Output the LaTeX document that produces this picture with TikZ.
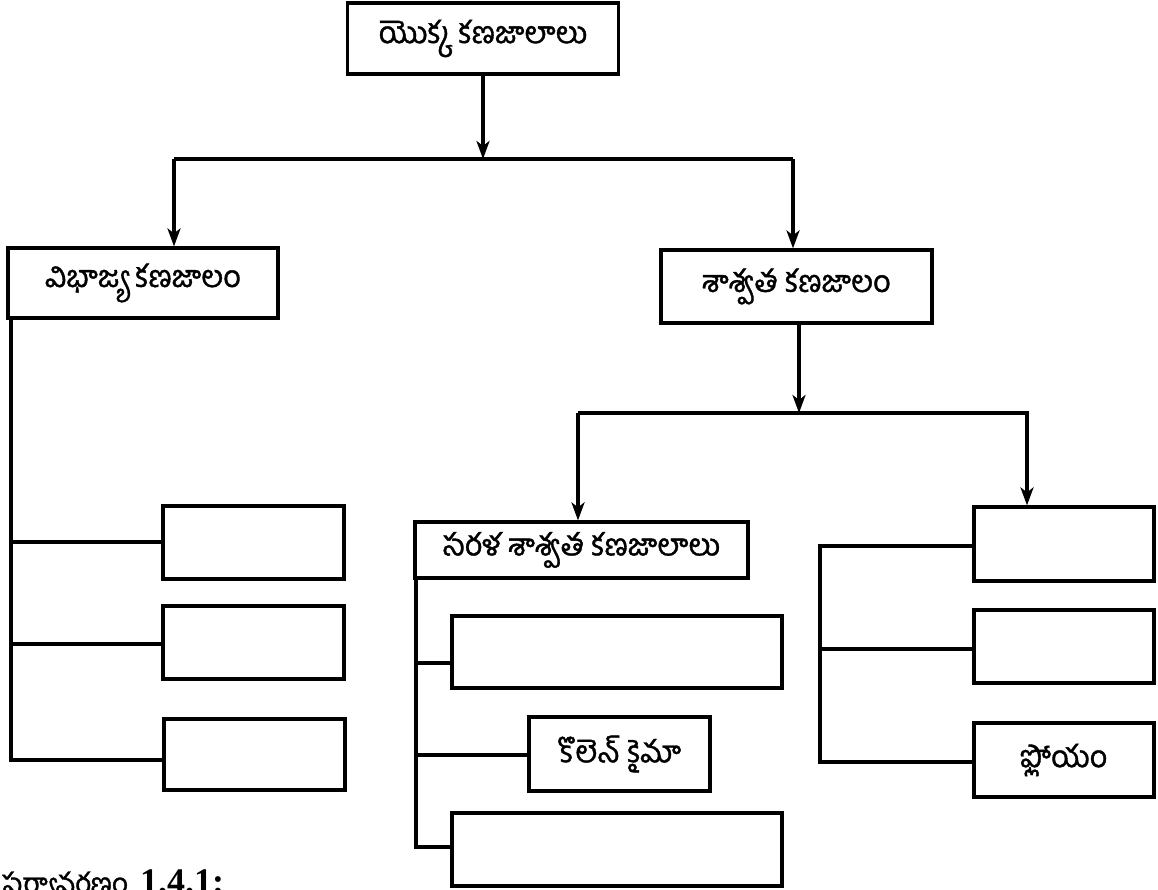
\documentclass[tikz,border=0pt]{standalone}
\usepackage{fontspec}
\setmainfont{Liberation Serif}
\newfontfamily\tel[Script=Telugu,FakeBold=1.2]{Hind Guntur}
\usetikzlibrary{arrows.meta}
\begin{document}
\begin{tikzpicture}[x=1pt,y=-1pt,
  box/.style={draw, line width=3.2pt, inner sep=0pt, font=\tel\fontsize{30.5}{32}\selectfont},
  ln/.style={line width=3.2pt},
  arr/.style={ln, -{Stealth[length=18pt,width=13pt,inset=5pt]}}]
\useasboundingbox (0,0) rectangle (1158,889);
% level 1
\node[box, minimum width=271pt, minimum height=71pt] (top) at (483,38.5) {యొక్క కణజాలాలు};
\coordinate (j1) at (483,159);
\coordinate (jl) at (174,159);
\coordinate (jr) at (793,159);
\draw[arr] (top.south) -- (j1);
\draw[ln] (jl) -- (jr);
% level 2
\node[box, minimum width=270pt, minimum height=70pt] (mer) at (143,283) {విభాజ్య కణజాలం};
\node[box, minimum width=271pt, minimum height=73pt] (per) at (796.5,286.5) {శాశ్వత కణజాలం};
\draw[arr] (jl) -- (jl |- mer.north);
\draw[arr] (jr) -- (jr |- per.north);
% meristem children
\node[box, minimum width=181pt, minimum height=73pt] (l1) at (253.5,542.5) {};
\node[box, minimum width=181pt, minimum height=73pt] (l2) at (253.5,642.5) {};
\node[box, minimum width=181pt, minimum height=71pt] (l3) at (254.5,754.5) {};
\coordinate (lv) at (11,760);
\draw[ln] (mer.south -| lv) -- (lv) -- (lv -| l3.west);
\draw[ln] (11,542) -- (l1.west |- 0,542);
\draw[ln] (11,644) -- (l2.west |- 0,644);
% permanent split
\coordinate (j2) at (799,413);
\coordinate (j2l) at (578,413);
\coordinate (j2r) at (1029,413);
\draw[arr] (per.south -| j2) -- (j2);
\draw[ln] (j2l) -- (j2r);
\node[box, minimum width=333pt, minimum height=56pt] (sim) at (581.5,550) {సరళ శాశ్వత కణజాలాలు};
\node[box, minimum width=180pt, minimum height=74pt] (r1) at (1064,544) {};
\node[box, minimum width=180pt, minimum height=73pt] (r2) at (1064,646.5) {};
\node[box, minimum width=180pt, minimum height=74pt] (r3) at (1064,760) {ఫ్లోయం};
\draw[arr] (j2l) -- (j2l |- sim.north);
\draw[arr] (1027,413) -- (r1.north -| 1027,0);
% simple children
\node[box, minimum width=330pt, minimum height=72pt] (s1) at (617,652) {};
\node[box, minimum width=181pt, minimum height=74pt] (s2) at (619.5,754) {కొలెన్ కైమా};
\node[box, minimum width=330pt, minimum height=73pt] (s3) at (617,849.5) {};
\coordinate (sv) at (416,847);
\draw[ln] (sim.south -| sv) -- (sv) -- (sv -| s3.west);
\draw[ln] (416,663) -- (s1.west |- 0,663);
\draw[ln] (416,755) -- (s2.west |- 0,755);
% right column connectors
\coordinate (rv) at (820,762);
\draw[ln] (820,544) -- (rv) -- (rv -| r3.west);
\draw[ln] (820,546) -- (r1.west |- 0,546);
\draw[ln] (820,649) -- (r2.west |- 0,649);
% caption
\node[anchor=base west, inner sep=0pt] (cap) at (2,893) {{\tel\fontsize{28}{30}\selectfont పర్యావరణం}\hspace{12pt}{\fontsize{36}{38}\selectfont\bfseries 1.4.1:}};
\end{tikzpicture}
\end{document}
